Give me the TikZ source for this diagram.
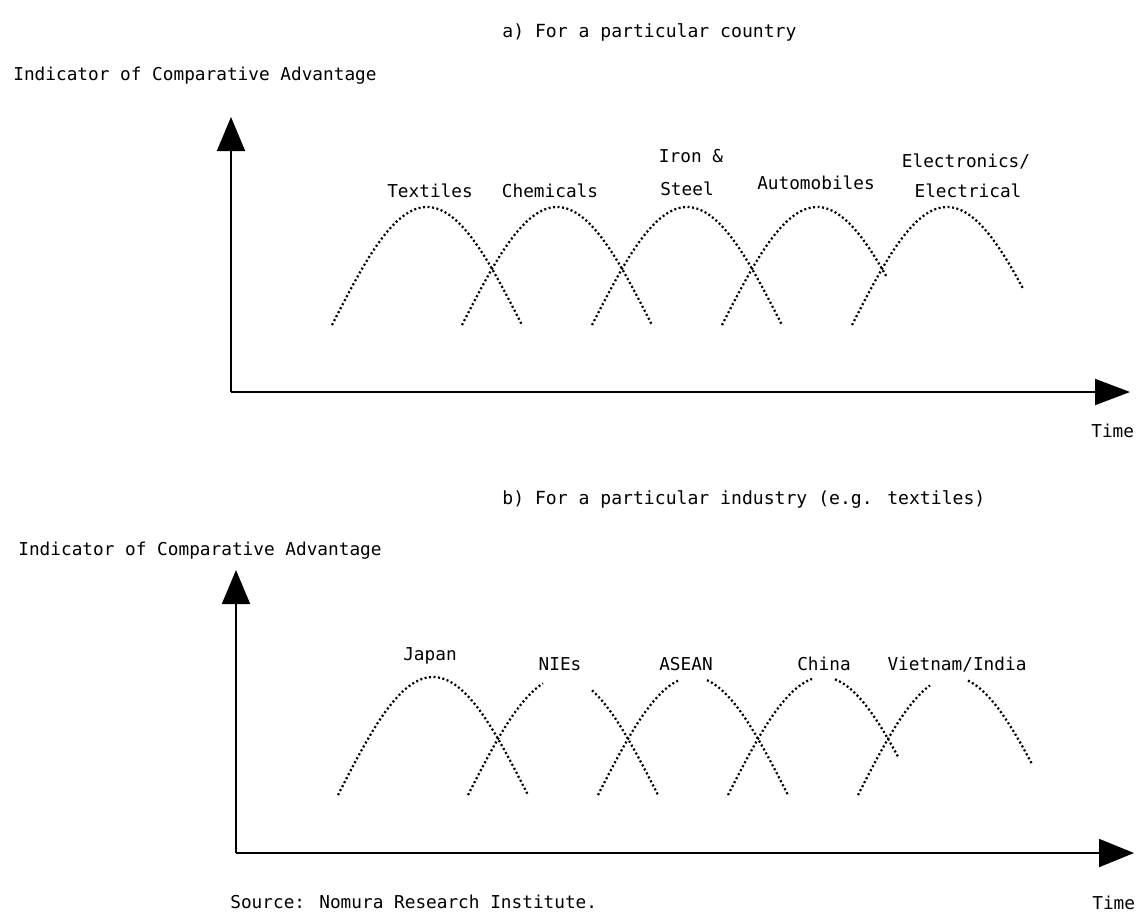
\documentclass[tikz,border=0pt]{standalone}
\usepackage{fontspec}
\setmainfont{DejaVu Sans Mono}
\usetikzlibrary{arrows.meta}

\tikzset{
  axis/.style={black, line width=0.04cm, -{Triangle[length=0.68cm,width=0.56cm]}},
  hump/.style={black, line width=0.045cm, dash pattern=on 0.04cm off 0.05cm, smooth, samples=40},
  lbl/.style={font=\fontsize{10.1}{12}\selectfont, inner sep=0pt, anchor=base},
  head/.style={font=\fontsize{10.3}{12}\selectfont, inner sep=0pt, anchor=base west},
}

% one dotted arc: centre, base line, from dx, to dx
\newcommand{\arcpart}[4]{%
  \draw[hump, domain=#3:#4] plot ({#1+\x},{#2-118*cos(90*\x/95)});
}

\begin{document}
\begin{tikzpicture}[x=0.02cm, y=-0.02cm]
  \useasboundingbox (0,0) rectangle (1136,914);

  % a) for a particular country
  \node[head] (titlea) at (502,37) {a) For a particular country};
  \node[lbl, anchor=base west] (ylabela) at (13,80) {Indicator of Comparative Advantage};
  \coordinate (oa) at (231,392);
  \coordinate (yta) at (231,117);
  \coordinate (xta) at (1130,392);
  \draw[axis] (oa) -- (yta);
  \draw[axis, -{Triangle[length=0.7cm,width=0.52cm]}] (oa) -- (xta);
  \node[lbl, anchor=base west] (timea) at (1091,437) {Time};

  \arcpart{427}{325}{-95}{95}
  \arcpart{557}{325}{-95}{95}
  \arcpart{687}{325}{-95}{95}
  \arcpart{817}{325}{-95}{70}
  \arcpart{947}{325}{-95}{76}

  \node[lbl] (textiles) at (430,197) {Textiles};
  \node[lbl] (chemicals) at (550,197) {Chemicals};
  \node[lbl] (iron) at (691,162) {Iron \&};
  \node[lbl] (steel) at (687,195) {Steel};
  \node[lbl] (autos) at (816,189) {Automobiles};
  \node[lbl] (electronics) at (966,167) {Electronics/};
  \node[lbl] (electrical) at (968,197) {Electrical};

  % b) for a particular industry
  \node[head] (titleb) at (502,504) {b) For a particular industry (e.g. textiles)};
  \node[lbl, anchor=base west] (ylabelb) at (18,555) {Indicator of Comparative Advantage};
  \coordinate (ob) at (236,853);
  \coordinate (ytb) at (236,570);
  \coordinate (xtb) at (1134,853);
  \draw[axis] (ob) -- (ytb);
  \draw[axis, -{Triangle[length=0.7cm,width=0.56cm]}] (ob) -- (xtb);
  \node[lbl, anchor=base west] (timeb) at (1092,909) {Time};

  \arcpart{433}{795}{-95}{95}
  \arcpart{563}{795}{-95}{-20}
  \arcpart{563}{795}{29}{95}
  \arcpart{693}{795}{-95}{-15}
  \arcpart{693}{795}{14}{95}
  \arcpart{823}{795}{-95}{-11}
  \arcpart{823}{795}{12}{75}
  \arcpart{953}{795}{-95}{-23}
  \arcpart{953}{795}{15}{79}

  \node[lbl] (japan) at (430,660) {Japan};
  \node[lbl] (nies) at (560,670) {NIEs};
  \node[lbl] (asean) at (686,670) {ASEAN};
  \node[lbl] (china) at (824,670) {China};
  \node[lbl] (vietnam) at (957,670) {Vietnam/India};

  \node[lbl, anchor=base west] (source) at (230,908) {Source: Nomura Research Institute.};
\end{tikzpicture}
\end{document}
